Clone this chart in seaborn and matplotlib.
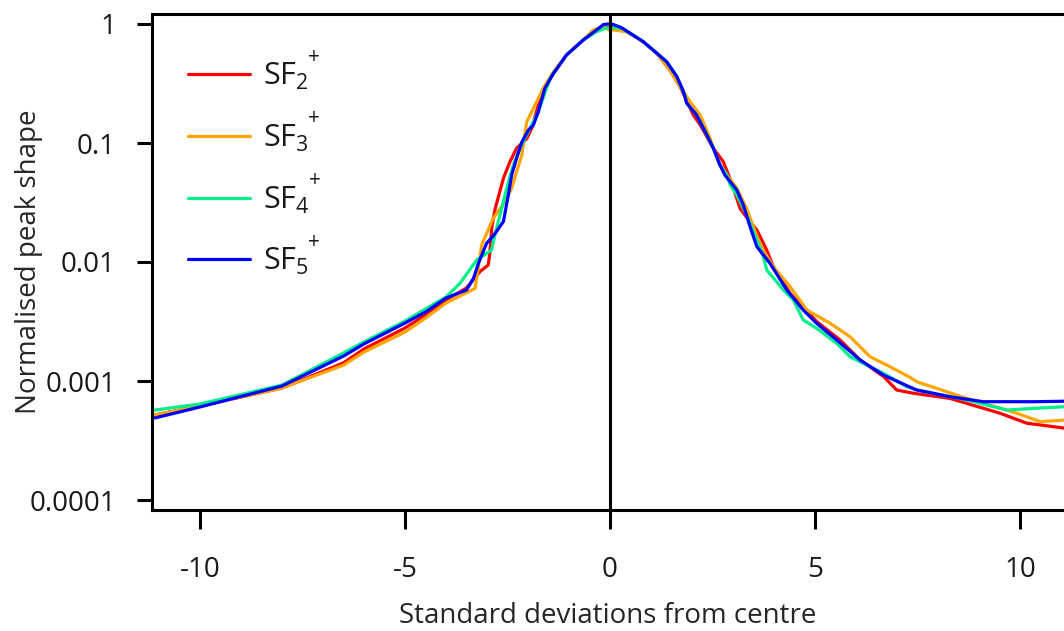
import numpy as np
import pandas as pd
import matplotlib
matplotlib.use("Agg")
import matplotlib.pyplot as plt
import seaborn as sns
from matplotlib.lines import Line2D

# ---------------- data ----------------
series_names = ["SF2+", "SF3+", "SF4+", "SF5+"]
series_labels = [r"SF$_2$", r"SF$_3$", r"SF$_4$", r"SF$_5$"]
label_charge = "+"
series_colors = ["#FF0000", "#FFA500", "#00EE8C", "#0000FF"]

red_x = [-11.1, -10, -8, -6.5, -6, -5, -4.5, -4, -3.5, -3.17, -2.97, -2.93, -2.88, -2.80,
         -2.60, -2.44, -2.28, -2.03, -1.91, -1.75, -1.46, -1.06, -0.65, -0.33, -0.12, 0.08,
         0.41, 0.81, 1.14, 1.46, 1.71, 2.03, 2.20, 2.52, 2.76, 2.89, 3.01, 3.17, 3.41, 3.58,
         3.82, 3.98, 4.39, 5.04, 5.61, 6.10, 6.67, 6.99, 7.40, 8.29, 9.51, 10.16, 11.1]
red_y = [0.000518, 0.000617, 0.000873, 0.00142, 0.00186, 0.00279, 0.00359, 0.0048, 0.00605,
         0.00832, 0.00944, 0.012, 0.02, 0.0282, 0.0505, 0.0697, 0.0902, 0.109, 0.133, 0.208,
         0.35, 0.55, 0.735, 0.891, 0.933, 0.933, 0.861, 0.71, 0.568, 0.41, 0.297, 0.172,
         0.1416, 0.0902, 0.0697, 0.0538, 0.0416, 0.0282, 0.0218, 0.0186, 0.0126, 0.00914,
         0.00546, 0.00316, 0.00221, 0.0015, 0.00109, 0.00084, 0.000789, 0.000714, 0.000536,
         0.000442, 0.000401]

orange_x = [-11.1, -10, -8, -6.5, -6, -5, -4.5, -4, -3.5, -3.29, -3.13, -2.85, -2.56, -2.40,
            -2.28, -2.15, -2.07, -2.03, -1.79, -1.63, -1.38, -1.06, -0.65, -0.41, -0.16, -0.02,
            0.08, 0.41, 0.81, 1.14, 1.46, 1.71, 1.95, 2.20, 2.44, 2.64, 2.85, 3.09, 3.33, 3.54,
            3.66, 3.98, 4.39, 4.80, 5.37, 5.85, 6.34, 6.75, 7.28, 7.48, 8.70, 9.92, 10.49, 11.1]
orange_y = [0.000518, 0.000617, 0.000873, 0.00136, 0.00175, 0.00258, 0.00338, 0.00452,
            0.00552, 0.00601, 0.0139, 0.0233, 0.0321, 0.0416, 0.0574, 0.0793, 0.1245, 0.151,
            0.222, 0.288, 0.397, 0.55, 0.735, 0.891, 0.948, 0.891, 0.891, 0.861, 0.71, 0.568,
            0.41, 0.297, 0.222, 0.172, 0.109, 0.0697, 0.0538, 0.0416, 0.0282, 0.018, 0.0139,
            0.00914, 0.00621, 0.00395, 0.00305, 0.00236, 0.0016, 0.00136, 0.00109, 0.000986,
            0.000714, 0.000536, 0.000455, 0.00047]

green_x = [-11.1, -10, -8, -6.5, -6, -5, -4.5, -4, -3.66, -3.25, -2.89, -2.80, -2.68, -2.52,
           -2.36, -2.20, -1.95, -1.75, -1.46, -1.06, -0.65, -0.33, -0.12, 0.08, 0.28, 0.49,
           0.81, 1.14, 1.38, 1.63, 1.79, 1.87, 2.11, 2.36, 2.52, 2.68, 2.85, 2.93, 3.09, 3.33,
           3.50, 3.74, 3.82, 4.23, 4.47, 4.71, 5.04, 5.53, 5.85, 6.67, 7.24, 7.48, 8.70, 9.68,
           10.33, 11.1]
green_y = [0.00057, 0.000641, 0.000925, 0.00172, 0.00213, 0.00319, 0.00403, 0.00508,
           0.00662, 0.0104, 0.0126, 0.0174, 0.0251, 0.0416, 0.0653, 0.0902, 0.133, 0.183,
           0.35, 0.55, 0.735, 0.861, 0.92, 0.933, 0.923, 0.836, 0.71, 0.568, 0.482, 0.361,
           0.27, 0.216, 0.172, 0.117, 0.0902, 0.0653, 0.0538, 0.0444, 0.0366, 0.0248, 0.018,
           0.0111, 0.00857, 0.00582, 0.0048, 0.00326, 0.00277, 0.00207, 0.0016, 0.00116,
           0.000895, 0.00084, 0.000692, 0.00057, 0.000589, 0.000608]

blue_x = [-11.1, -10, -8, -6.5, -6, -5, -4.5, -4, -3.5, -3.33, -3.21, -3.01, -2.80, -2.60,
          -2.48, -2.40, -2.28, -2.15, -1.99, -1.87, -1.75, -1.59, -1.38, -1.06, -0.65, -0.33,
          -0.16, -0.04, 0.08, 0.28, 0.49, 0.81, 1.14, 1.38, 1.63, 1.79, 1.87, 2.11, 2.36, 2.52,
          2.68, 2.80, 3.09, 3.25, 3.41, 3.58, 3.90, 4.31, 4.71, 5.04, 5.53, 6.10, 6.67, 7.24,
          7.48, 8.29, 9.10, 10.33, 11.1]
blue_y = [0.000489, 0.000605, 0.000908, 0.00162, 0.00205, 0.00307, 0.0038, 0.00498, 0.00582,
          0.0073, 0.00975, 0.01436, 0.0174, 0.0219, 0.0366, 0.0538, 0.0743, 0.102, 0.1285,
          0.1416, 0.183, 0.288, 0.385, 0.55, 0.735, 0.891, 0.99, 1.0, 0.99, 0.931, 0.836,
          0.71, 0.568, 0.482, 0.361, 0.27, 0.216, 0.172, 0.117, 0.0902, 0.0653, 0.0538,
          0.0403, 0.0301, 0.02, 0.01346, 0.00975, 0.00582, 0.00395, 0.00305, 0.00221, 0.0015,
          0.00112, 0.000912, 0.00084, 0.000738, 0.00067, 0.00067, 0.000676]

x_ticks = [-10, -5, 0, 5, 10]
x_ticklabels = ["-10", "-5", "0", "5", "10"]
y_ticks = [1, 0.1, 0.01, 0.001, 0.0001]
y_ticklabels = ["1", "0.1", "0.01", "0.001", "0.0001"]

# ---------------- build table ----------------
frames = []
for name, xs, ys in zip(series_names,
                        [red_x, orange_x, green_x, blue_x],
                        [red_y, orange_y, green_y, blue_y]):
    frames.append(pd.DataFrame({"x": xs, "y": ys, "series": name}))
df = pd.concat(frames, ignore_index=True)

# ---------------- style ----------------
sns.set_style("ticks")
plt.rcParams["font.family"] = ["Open Sans", "DejaVu Sans"]
plt.rcParams["mathtext.fontset"] = "custom"
plt.rcParams["mathtext.rm"] = "Open Sans"
plt.rcParams["mathtext.it"] = "Open Sans:italic"
plt.rcParams["mathtext.bf"] = "Open Sans:bold"
plt.rcParams["text.color"] = "#1a1a1a"

W, H = 1064, 631
fig = plt.figure(figsize=(W / 100, H / 100), dpi=100)
ax = fig.add_axes([152 / W, 1 - 510 / H, 1 - 152 / W, (510 - 14) / H])

palette = dict(zip(series_names, series_colors))
sns.lineplot(data=df, x="x", y="y", hue="series", palette=palette,
             hue_order=series_names, estimator=None, sort=False,
             linewidth=2.3, ax=ax, legend=False)

ax.set_yscale("log")
ax.set_xlim(-11.17, 11.07)
ax.set_ylim(10 ** (-4 - 10 / 119), 10 ** (10 / 119))
ax.axvline(0, color="black", linewidth=2.2, zorder=5)

ax.set_xticks(x_ticks)
ax.set_xticklabels(x_ticklabels)
ax.set_yticks(y_ticks)
ax.set_yticklabels(y_ticklabels)
ax.minorticks_off()
ax.tick_params(axis="x", length=14, width=2.2, pad=19, labelsize=20, colors="black",
               labelcolor="#1a1a1a")
ax.tick_params(axis="y", length=11, width=2.2, pad=15, labelsize=20, colors="black",
               labelcolor="#1a1a1a")

for side in ["left", "bottom", "top"]:
    ax.spines[side].set_linewidth(2.2)
    ax.spines[side].set_color("black")
ax.spines["right"].set_visible(False)

ax.set_xlabel("Standard deviations from centre", fontsize=20, va="bottom")
ax.xaxis.set_label_coords(0.5, (510 - 630) / 496)
ax.set_ylabel("Normalised peak shape", fontsize=20)
ax.yaxis.set_label_coords((43 - 152) / 912, 0.5)

handles = [Line2D([0], [0], color=c, linewidth=2.3) for c in series_colors]
leg = ax.legend(handles, series_labels, loc="upper left", bbox_to_anchor=(0.0395, 0.905),
                frameon=False, fontsize=22, handlelength=2.03, handletextpad=0.42,
                labelspacing=1.0, borderpad=0, borderaxespad=0)

# raised "+" charge after each legend label (as in the reference typesetting)
fig.canvas.draw()
renderer = fig.canvas.get_renderer()
for t in leg.get_texts():
    bb = t.get_window_extent(renderer)
    fig.text((bb.x1 - 1) / W, (bb.y1 + 4) / H, label_charge, fontsize=15,
             ha="left", va="center", color="#1a1a1a")

fig.savefig("out.png", dpi=100)
